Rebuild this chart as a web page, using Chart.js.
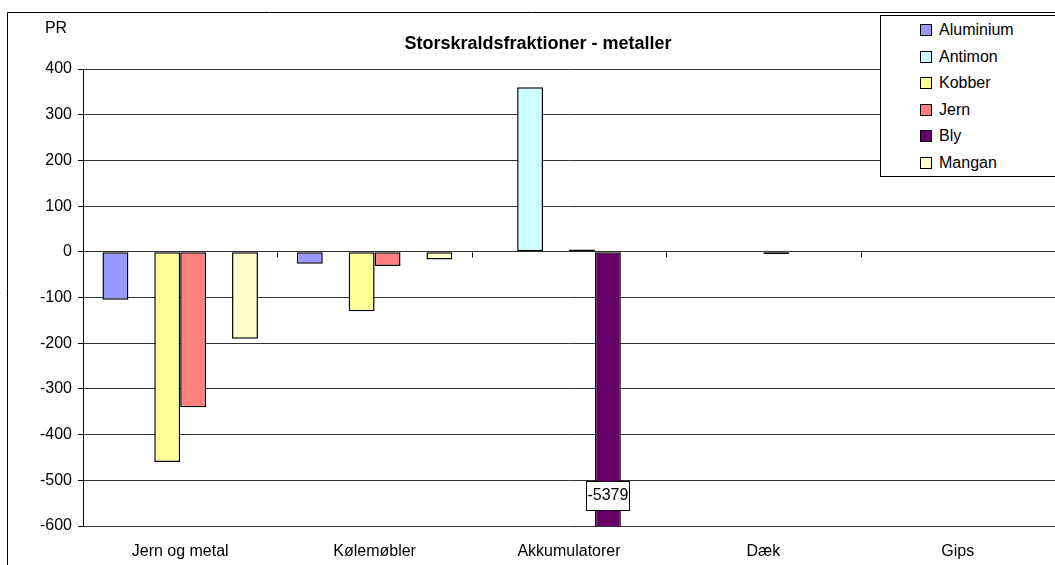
<!DOCTYPE html>
<html>
<head>
<meta charset="utf-8">
<script src="https://cdn.jsdelivr.net/npm/chart.js@4.4.1/dist/chart.umd.min.js"></script>
<style>
  html, body { margin: 0; padding: 0; background: #fff; }
  #wrap { position: relative; width: 1055px; height: 565px; }
  #legenda {
    position: absolute; left: 880px; top: 15px; width: 190px; height: 162px;
    border: 1px solid #000; background: #fff; box-sizing: border-box;
    font: 16px "Liberation Sans", Arial, sans-serif; color: #000;
    padding-top: 1px;
  }
  #legenda div { height: 26.5px; line-height: 26px; padding-left: 39px; white-space: nowrap; }
  #legenda span {
    display: inline-block; width: 10px; height: 10px; border: 1px solid #000;
    margin-right: 7px; vertical-align: -1px;
  }
</style>
</head>
<body>
<div id="wrap">
  <canvas id="grafico" width="1055" height="565"></canvas>
  <div id="legenda"></div>
</div>
<script>
// Dados
const categorias = ['Jern og metal', 'Kølemøbler', 'Akkumulatorer', 'Dæk', 'Gips'];
const aluminium = [-105, -26, null, null, null];
const antimon = [null, null, 360, null, null];
const kobber = [-460, -130, null, null, null];
const jern = [-340, -31, 5, -5, null];
const bly = [null, null, -5379, null, null];
const mangan = [-190, -17, null, null, null];
const yTicks = [400, 300, 200, 100, 0, -100, -200, -300, -400, -500, -600];

const series = [
  { nome: 'Aluminium', valores: aluminium, cor: '#9999FF' },
  { nome: 'Antimon', valores: antimon, cor: '#CCFFFF' },
  { nome: 'Kobber', valores: kobber, cor: '#FFFF99' },
  { nome: 'Jern', valores: jern, cor: '#FF8080' },
  { nome: 'Bly', valores: bly, cor: '#660066' },
  { nome: 'Mangan', valores: mangan, cor: '#FFFFCC' }
];

const FONTE = '"Liberation Sans", Arial, sans-serif';

// moldura, título, "PR", marcas do eixo x e rótulo -5379
const extras = {
  id: 'extras',
  afterDraw(chart) {
    const ctx = chart.ctx;
    const area = chart.chartArea;
    const y = chart.scales.y;
    ctx.save();
    ctx.strokeStyle = '#000';
    ctx.lineWidth = 1;
    ctx.beginPath();
    ctx.moveTo(7.5, 565);
    ctx.lineTo(7.5, 12.5);
    ctx.lineTo(1055, 12.5);
    ctx.stroke();

    ctx.fillStyle = '#000';
    ctx.font = 'bold 18px ' + FONTE;
    ctx.textAlign = 'center';
    ctx.textBaseline = 'middle';
    ctx.fillText('Storskraldsfraktioner - metaller', 538, 44);

    ctx.font = '16px ' + FONTE;
    ctx.fillText('PR', 56, 29);

    // marcas das categorias na linha do zero
    const y0 = Math.round(y.getPixelForValue(0)) + 0.5;
    const passo = (area.right - area.left) / categorias.length;
    ctx.beginPath();
    for (let i = 1; i < categorias.length; i++) {
      const xi = Math.round(area.left + passo * i) + 0.5;
      ctx.moveTo(xi, y0);
      ctx.lineTo(xi, y0 + 5);
    }
    ctx.stroke();

    // rótulo do valor de Bly
    const meta = chart.getDatasetMeta(4);
    const barra = meta.data[2];
    if (barra) {
      const texto = String(bly[2]);
      const bx = barra.x;
      const by = 495;
      ctx.fillStyle = '#fff';
      ctx.fillRect(bx - 22, by - 14, 43, 29);
      ctx.strokeRect(Math.round(bx - 22) + 0.5, by - 14 + 0.5, 43, 29);
      ctx.fillStyle = '#000';
      ctx.font = '16px ' + FONTE;
      ctx.fillText(texto, bx, by + 1);
    }
    ctx.restore();
  }
};

const ctx = document.getElementById('grafico').getContext('2d');
const grafico = new Chart(ctx, {
  type: 'bar',
  data: {
    labels: categorias,
    datasets: series.map(s => ({
      label: s.nome,
      data: s.valores,
      backgroundColor: s.cor,
      borderColor: '#000',
      borderWidth: 1.5,
      borderSkipped: false,
      categoryPercentage: 0.8,
      barPercentage: 1.0
    }))
  },
  options: {
    responsive: false,
    animation: false,
    layout: { padding: { top: 69, left: 0, right: 0, bottom: 0 } },
    plugins: {
      legend: { display: false },
      title: { display: false },
      tooltip: { enabled: false }
    },
    scales: {
      x: {
        grid: { display: false, drawTicks: false },
        border: { display: false },
        ticks: {
          color: '#000',
          font: { family: FONTE, size: 16 },
          padding: 16,
          maxRotation: 0
        },
        afterFit(scale) { scale.height = 39; }
      },
      y: {
        min: -600,
        max: 400,
        afterBuildTicks(scale) { scale.ticks = yTicks.map(v => ({ value: v })); },
        grid: { color: '#333', tickLength: 5, tickColor: '#000' },
        border: { display: true, color: '#000' },
        ticks: {
          color: '#000',
          font: { family: FONTE, size: 16 },
          padding: 6
        },
        afterFit(scale) { scale.width = 83; }
      }
    }
  },
  plugins: [extras]
});

// legenda em HTML
const legenda = document.getElementById('legenda');
series.forEach(s => {
  const item = document.createElement('div');
  const quadrado = document.createElement('span');
  quadrado.style.background = s.cor;
  item.appendChild(quadrado);
  item.appendChild(document.createTextNode(s.nome));
  legenda.appendChild(item);
});
</script>
</body>
</html>
